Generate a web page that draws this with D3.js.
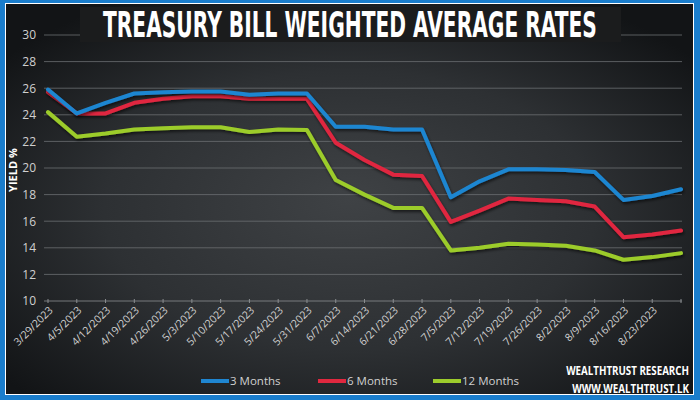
<!DOCTYPE html>
<html>
<head>
<meta charset="utf-8">
<script src="https://cdn.jsdelivr.net/npm/d3@7"></script>
<style>
  html, body { margin: 0; padding: 0; background: #ffffff; }
  svg { display: block; }
</style>
</head>
<body>
<svg id="chart" width="700" height="400"></svg>
<script>
// ---- data ----
const categories = ["3/29/2023","4/5/2023","4/12/2023","4/19/2023","4/26/2023","5/3/2023","5/10/2023",
  "5/17/2023","5/24/2023","5/31/2023","6/7/2023","6/14/2023","6/21/2023","6/28/2023","7/5/2023",
  "7/12/2023","7/19/2023","7/26/2023","8/2/2023","8/9/2023","8/16/2023","8/23/2023","8/30/2023"];
const tickLabels = ["3/29/2023","4/5/2023","4/12/2023","4/19/2023","4/26/2023","5/3/2023","5/10/2023",
  "5/17/2023","5/24/2023","5/31/2023","6/7/2023","6/14/2023","6/21/2023","6/28/2023","7/5/2023",
  "7/12/2023","7/19/2023","7/26/2023","8/2/2023","8/9/2023","8/16/2023","8/23/2023"];
const threeMonths = [25.9,24.1,24.9,25.6,25.7,25.75,25.75,25.5,25.6,25.6,23.1,23.1,22.9,22.9,17.8,19.0,19.9,19.9,19.85,19.7,17.6,17.9,18.4];
const sixMonths   = [25.7,24.1,24.1,24.9,25.2,25.4,25.4,25.2,25.2,25.2,21.9,20.6,19.5,19.4,15.95,16.8,17.7,17.6,17.5,17.1,14.8,15.0,15.3];
const twelveMonths= [24.2,22.35,22.6,22.9,22.98,23.06,23.06,22.7,22.9,22.86,19.1,18.0,17.0,17.0,13.8,14.0,14.3,14.25,14.15,13.8,13.1,13.3,13.6];
const yTicks = [10,12,14,16,18,20,22,24,26,28,30];
const seriesNames = ["3 Months","6 Months","12 Months"];
const seriesColors = ["#1f86d1","#e0283f","#9ccc2c"];
const titleText = "TREASURY BILL WEIGHTED AVERAGE RATES";
const yTitle = "YIELD %";
const brand = ["WEALTHTRUST RESEARCH","WWW.WEALTHTRUST.LK"];

// ---- drawing ----
const svg = d3.select("#chart");
const W = 700, H = 400;
const defs = svg.append("defs");

const bg = defs.append("radialGradient").attr("id","bg")
  .attr("cx","50%").attr("cy","55%").attr("r","65%")
  .attr("fx","50%").attr("fy","50%");
bg.append("stop").attr("offset","0%").attr("stop-color","#3f4245");
bg.append("stop").attr("offset","55%").attr("stop-color","#2d3033");
bg.append("stop").attr("offset","100%").attr("stop-color","#121416");

const sh = defs.append("filter").attr("id","shadow").attr("x","-5%").attr("y","-5%").attr("width","110%").attr("height","120%");
sh.append("feDropShadow").attr("dx",1).attr("dy",2).attr("stdDeviation",1.5)
  .attr("flood-color","#000").attr("flood-opacity",0.6);

// frame
svg.append("rect").attr("x",0).attr("y",0).attr("width",W).attr("height",H).attr("fill","#1a7dcc");
svg.append("rect").attr("x",5).attr("y",3).attr("width",689).attr("height",392).attr("fill","#ffffff");
svg.append("rect").attr("x",6).attr("y",4).attr("width",687).attr("height",390).attr("fill","url(#bg)");

const x = d3.scalePoint().domain(categories).range([48, 681]);
const y = d3.scaleLinear().domain([10, 30]).range([301, 35]);

// grid
svg.append("g").selectAll("line").data(yTicks).join("line")
  .attr("x1", 44).attr("x2", 682)
  .attr("y1", d => y(d)).attr("y2", d => y(d))
  .attr("stroke", d => d === 10 ? "#8a8d90" : "#6b6e71").attr("stroke-width", 1).attr("opacity", 0.8);

// y axis labels
const yAxis = d3.axisLeft(y).tickValues(yTicks).tickSize(0).tickPadding(0);
const gy = svg.append("g").attr("transform", "translate(36,0)").call(yAxis);
gy.select(".domain").remove();
gy.selectAll("text").attr("fill","#d0d0d0").attr("font-family","'Open Sans', sans-serif").attr("font-size",12);

// x ticks on baseline
svg.append("g").selectAll("line").data(categories).join("line")
  .attr("x1", d => x(d)).attr("x2", d => x(d))
  .attr("y1", 299).attr("y2", 303)
  .attr("stroke","#8a8d90").attr("stroke-width",1);

// x axis labels
const xAxis = d3.axisBottom(x).tickSize(0).tickPadding(0)
  .tickFormat(d => tickLabels.includes(d) ? d : "");
const gx = svg.append("g").attr("transform","translate(0,301)").call(xAxis);
gx.select(".domain").remove();
gx.selectAll("text")
  .attr("fill","#d0d0d0").attr("font-family","'Open Sans', sans-serif").attr("font-size",10.5)
  .attr("text-anchor","end").attr("dy",0).attr("y",0)
  .attr("transform","translate(5,10) rotate(-45)");

// y title
svg.append("text").attr("transform","translate(17,170) rotate(-90)")
  .attr("text-anchor","middle").attr("fill","#ffffff")
  .attr("font-family","'Open Sans', sans-serif").attr("font-weight","bold").attr("font-size",11)
  .text(yTitle);

// lines
const allSeries = [threeMonths, sixMonths, twelveMonths];
const line = d3.line().x((d,i) => x(categories[i])).y(d => y(d));
const order = [2,1,0];
svg.append("g").selectAll("path").data(order).join("path")
  .attr("d", i => line(allSeries[i]))
  .attr("fill","none").attr("stroke", i => seriesColors[i])
  .attr("stroke-width",4).attr("stroke-linejoin","round").attr("stroke-linecap","round")
  .attr("filter","url(#shadow)");

// helper: squeeze text horizontally to a target width
function fitText(sel, targetW, anchorX, baseY, anchorEnd) {
  const t = sel.node();
  const w = t.getComputedTextLength();
  const s = Math.min(1, targetW / w);
  sel.attr("x", 0).attr("y", 0)
     .attr("text-anchor", anchorEnd ? "end" : "start")
     .attr("transform", `translate(${anchorX},${baseY}) scale(${s},1)`);
}

// title box
svg.append("rect").attr("x",80).attr("y",7).attr("width",541).attr("height",35).attr("fill","#1b1c1d");
const title = svg.append("text")
  .attr("fill","#ffffff")
  .attr("font-family","'Liberation Sans Narrow','DejaVu Sans Condensed', sans-serif")
  .attr("font-weight","bold").attr("font-size",35)
  .text(titleText);
fitText(title, 494, 103, 37, false);

// legend
const legendX = [201, 318, 433];
const lg = svg.append("g").selectAll("g").data(seriesNames).join("g")
  .attr("transform",(d,i) => `translate(${legendX[i]},381)`);
lg.append("line").attr("x1",0).attr("x2",28).attr("y1",0).attr("y2",0)
  .attr("stroke",(d,i) => seriesColors[i]).attr("stroke-width",4);
lg.append("text").attr("x",29).attr("y",4)
  .attr("fill","#d0d0d0").attr("font-family","'Open Sans', sans-serif").attr("font-size",11.5)
  .text(d => d);

// brand
const brandLen = [123, 117];
svg.append("g").selectAll("text").data(brand).join("text")
  .attr("fill","#ffffff")
  .attr("font-family","'Open Sans', sans-serif").attr("font-weight","bold").attr("font-size",11.5)
  .text(d => d)
  .each(function(d, i) { fitText(d3.select(this), brandLen[i], 689, 375 + i*18, true); });
</script>
</body>
</html>
